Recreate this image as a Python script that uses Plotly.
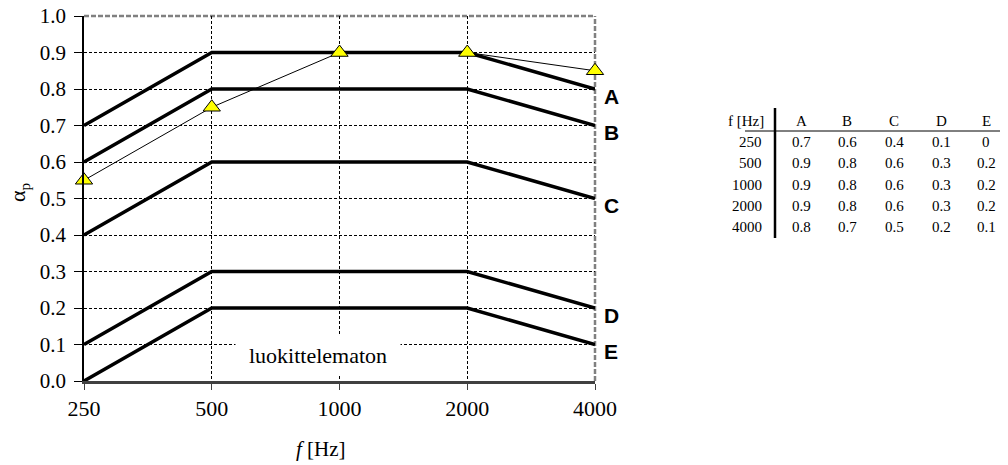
import math
import plotly.graph_objects as go

# ---------------- data ----------------
freqs = [250, 500, 1000, 2000, 4000]
class_names = ["A", "B", "C", "D", "E"]
class_A = [0.7, 0.9, 0.9, 0.9, 0.8]
class_B = [0.6, 0.8, 0.8, 0.8, 0.7]
class_C = [0.4, 0.6, 0.6, 0.6, 0.5]
class_D = [0.1, 0.3, 0.3, 0.3, 0.2]
class_E = [0.0, 0.2, 0.2, 0.2, 0.1]
measured = [0.55, 0.75, 0.9, 0.9, 0.85]
y_ticks = [0.0, 0.1, 0.2, 0.3, 0.4, 0.5, 0.6, 0.7, 0.8, 0.9, 1.0]
x_ticks = [250, 500, 1000, 2000, 4000]
unclassified_label = "luokittelematon"

classes = [class_A, class_B, class_C, class_D, class_E]

# ---------------- layout geometry ----------------
W, H = 1008, 465
OFF = 8  # page body margin
L, R, T, B = 84, 595, 16, 381
PW, PH = R - L, B - T
EPS = 1e-9


def px(x):
    return (x - L) / PW


def py(y):
    return (B - y) / PH


SERIF = "Liberation Serif, Times New Roman, serif"
SANS = "Liberation Sans, Arial, sans-serif"

fig = go.Figure()

# class lines
for name, vals in zip(class_names, classes):
    fig.add_trace(go.Scatter(
        x=freqs, y=vals, mode="lines",
        line=dict(color="black", width=3.5),
        showlegend=False, hoverinfo="skip", cliponaxis=False,
    ))

# measured curve
fig.add_trace(go.Scatter(
    x=freqs, y=measured, mode="lines+markers",
    line=dict(color="black", width=1),
    marker=dict(symbol="triangle-up", size=15, color="#FFFF00",
                line=dict(color="black", width=1)),
    showlegend=False, cliponaxis=False,
))

annotations = []
# class letters at right end
for name, vals in zip(class_names, classes):
    annotations.append(dict(
        x=math.log10(freqs[-1]), y=vals[-1], xref="x", yref="y",
        text=f"<b>{name}</b>", showarrow=False,
        xanchor="left", yanchor="middle", xshift=7, yshift=-7,
        font=dict(family=SANS, size=21, color="black"),
    ))

# unclassified label with white box
annotations.append(dict(
    x=px(318), y=py(355), xref="paper", yref="paper",
    text=unclassified_label, showarrow=False,
    xanchor="center", yanchor="middle",
    width=162, height=36, bgcolor="white",
    font=dict(family=SERIF, size=22, color="black"),
))

# axis titles
annotations.append(dict(
    x=px(19), y=py(192), xref="paper", yref="paper",
    text="α<sub>p</sub>", showarrow=False, textangle=-90,
    xanchor="center", yanchor="middle",
    font=dict(family=SERIF, size=22, color="black"),
))
annotations.append(dict(
    x=px(321), y=py(449), xref="paper", yref="paper",
    text="<i>f</i> [Hz]", showarrow=False,
    xanchor="center", yanchor="middle",
    font=dict(family=SERIF, size=21, color="black"),
))

# table
tfont = dict(family=SERIF, size=15, color="black")
col_x = [801, 847, 894, 941, 986]
row_y0 = 142
row_dy = 21.25
annotations.append(dict(
    x=px(766), y=py(121), xref="paper", yref="paper", text="f [Hz]",
    showarrow=False, xanchor="right", yanchor="middle", font=tfont,
))
for cx, name in zip(col_x, class_names):
    annotations.append(dict(
        x=px(cx), y=py(121), xref="paper", yref="paper", text=name,
        showarrow=False, xanchor="center", yanchor="middle", font=tfont,
    ))
for i, f in enumerate(freqs):
    ry = row_y0 + i * row_dy
    annotations.append(dict(
        x=px(764), y=py(ry), xref="paper", yref="paper", text=str(f),
        showarrow=False, xanchor="right", yanchor="middle", font=tfont,
    ))
    for cx, vals in zip(col_x, classes):
        annotations.append(dict(
            x=px(cx), y=py(ry), xref="paper", yref="paper", text=f"{vals[i]:g}",
            showarrow=False, xanchor="center", yanchor="middle", font=tfont,
        ))

shapes = [
    # top / right borders: white cover then gray dashed
    dict(type="line", xref="paper", yref="paper", x0=0, x1=1, y0=1, y1=1,
         line=dict(color="white", width=3), layer="between"),
    dict(type="line", xref="paper", yref="paper", x0=1, x1=1, y0=0, y1=1,
         line=dict(color="white", width=3), layer="between"),
    dict(type="line", xref="paper", yref="paper", x0=0, x1=1, y0=1, y1=1,
         line=dict(color="#808080", width=2.5, dash="5px,2px"), layer="between"),
    dict(type="line", xref="paper", yref="paper", x0=1, x1=1, y0=0, y1=1,
         line=dict(color="#808080", width=2.5, dash="5px,2px"), layer="between"),
    # table rules
    dict(type="line", xref="paper", yref="paper", x0=px(775), x1=px(775),
         y0=py(108), y1=py(238), line=dict(color="black", width=2.5)),
    dict(type="line", xref="paper", yref="paper", x0=px(745), x1=px(1000),
         y0=py(131), y1=py(131), line=dict(color="black", width=1)),
]

fig.update_layout(
    width=W - OFF, height=H - OFF,
    margin=dict(l=L - OFF, r=W - R, t=T - OFF, b=H - B, pad=0),
    autosize=False,
    paper_bgcolor="white", plot_bgcolor="white",
    showlegend=False,
    annotations=annotations, shapes=shapes,
    xaxis=dict(
        type="log", range=[math.log10(250) - EPS, math.log10(4000) + EPS],
        tickvals=x_ticks, ticktext=[str(v) for v in x_ticks],
        showgrid=True, gridcolor="black", gridwidth=1, griddash="3px,2px",
        showline=True, linecolor="#404040", linewidth=2.5,
        ticks="outside", ticklen=6, tickcolor="#404040", tickwidth=1,
        tickfont=dict(family=SERIF, size=22, color="black"),
        ticklabeloverflow="allow",
        zeroline=False, fixedrange=True, automargin=False,
    ),
    yaxis=dict(
        range=[0 - EPS, 1.0 + EPS],
        tickvals=y_ticks, ticktext=[f"{v:.1f}" for v in y_ticks],
        showgrid=True, gridcolor="black", gridwidth=1, griddash="3px,2px",
        showline=True, linecolor="black", linewidth=1.5,
        ticks="outside", ticklen=8, tickcolor="black", tickwidth=1,
        tickfont=dict(family=SERIF, size=21, color="black"),
        ticklabelstandoff=4, ticklabeloverflow="allow",
        zeroline=False, fixedrange=True, automargin=False,
    ),
)

fig.write_html("out.html")
